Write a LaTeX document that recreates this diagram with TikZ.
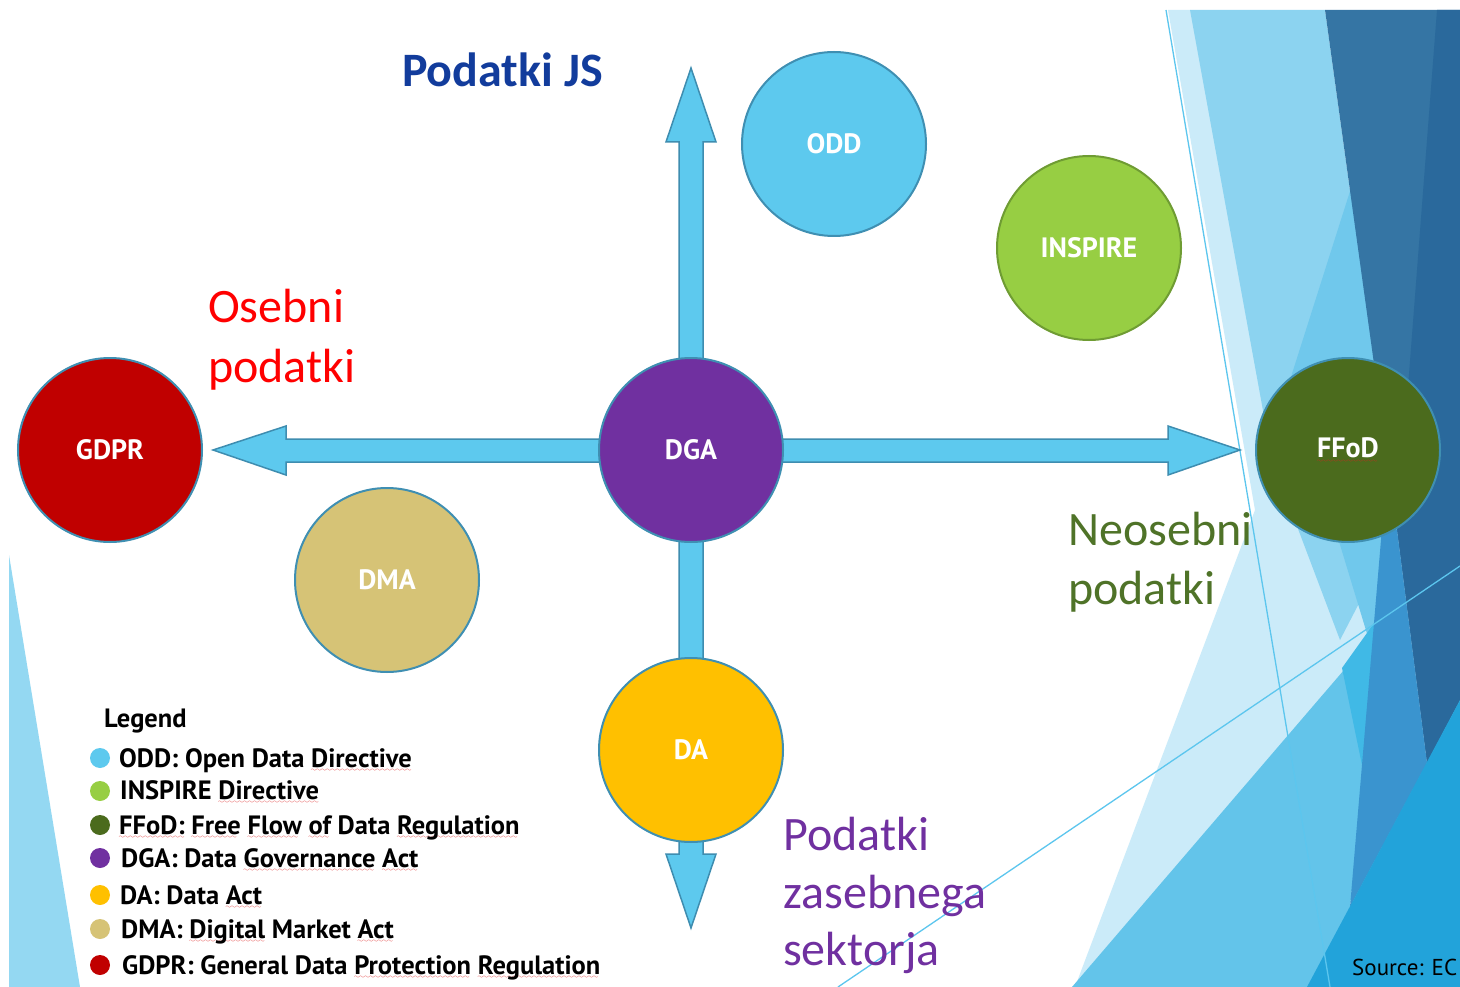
\documentclass[tikz,border=0pt]{standalone}
\usepackage{fontspec}
\setmainfont{PT Sans}
\newfontfamily\calib{Carlito}
\usetikzlibrary{calc}
\definecolor{spellred}{HTML}{E02020}
\font\wavefont=lasy6
\newcommand\spl[1]{\setbox0\hbox{#1}\rlap{\textcolor{spellred}{\lower4.5pt\hbox to\wd0{\leaders\hbox{\wavefont\char58}\hfil}}}\box0\relax}
\definecolor{bubbleedge}{HTML}{3F8FB2}
\definecolor{arrowfill}{HTML}{5DC9EE}
\definecolor{arrowedge}{HTML}{3E8DB0}
\definecolor{cODD}{HTML}{5DC9EE}
\definecolor{cINS}{HTML}{97CE43}
\definecolor{cINSedge}{HTML}{6F9C33}
\definecolor{cGDPR}{HTML}{C00000}
\definecolor{cDGA}{HTML}{7030A0}
\definecolor{cFFOD}{HTML}{4B6B1D}
\definecolor{cDMA}{HTML}{D6C376}
\definecolor{cDA}{HTML}{FFC000}
\definecolor{tJS}{HTML}{123C9C}
\definecolor{tRed}{HTML}{FF0000}
\definecolor{tGreen}{HTML}{4F7328}
\definecolor{tPurple}{HTML}{7030A0}
\definecolor{dPale}{HTML}{CBEBF9}
\definecolor{dLight}{HTML}{8CD3F0}
\definecolor{dMidLight}{HTML}{70C8EC}
\definecolor{dDarkA}{HTML}{3575A4}
\definecolor{dDarkB}{HTML}{2A699C}
\definecolor{dMedium}{HTML}{3A94CF}
\definecolor{dBright}{HTML}{22A3DA}
\definecolor{dMedBlue}{HTML}{63C4EA}
\definecolor{dCyan}{HTML}{40B9E6}
\definecolor{dLine}{HTML}{5CC6EE}
\definecolor{dLeft}{HTML}{94D8F2}
\pgfdeclarelayer{deco}
\pgfdeclarelayer{arr}
\pgfsetlayers{deco,arr,main}
\tikzset{
  bubble/.style={circle, draw=bubbleedge, line width=2pt, minimum size=184pt, inner sep=0pt,
    text=white, font=\fontsize{28}{32}\selectfont\bfseries},
  legdot/.style={circle, draw=none, inner sep=0pt, minimum size=20pt},
  legtext/.style={anchor=base west, inner sep=0pt, text=black,
    font=\fontsize{26.5}{30}\selectfont\bfseries},
  bigtext/.style={anchor=base west, inner sep=0pt, font=\calib\fontsize{48}{58}\selectfont},
  arrowshape/.style={fill=arrowfill, draw=arrowedge, line width=1.5pt, line join=miter},
  decoline/.style={draw=dLine, line width=1.3pt},
}
\begin{document}
\begin{tikzpicture}[x=1pt,y=-1pt]
\useasboundingbox (0,0) rectangle (1460,987);

% ---------- circles ----------
\node[bubble, fill=cODD] (odd) at (834,144) {ODD};
\node[bubble, fill=cINS, draw=cINSedge] (inspire) at (1089,248) {INSPIRE};
\node[bubble, fill=cGDPR] (gdpr) at (110,450) {GDPR};
\node[bubble, fill=cDGA] (dga) at (691,450) {DGA};
\node[bubble, fill=cFFOD] (ffod) at (1348,450) {\spl{FFoD}};
\node[bubble, fill=cDMA] (dma) at (387,580) {DMA};
\node[bubble, fill=cDA] (da) at (691,750) {DA};

% ---------- arrow tips ----------
\coordinate (uptip) at ($(dga.center)+(0,-382)$);
\coordinate (downtip) at ($(da.center)+(0,178)$);
\coordinate (lefttip) at ($(gdpr.center)+(103,0)$);
\coordinate (righttip) at ($(ffod.center)+(-108,0)$);

\begin{pgfonlayer}{arr}
\filldraw[arrowshape] (uptip) -- ++(25,74) -- ++(-13,0) -- ++(0,712) -- ++(13,0)
  -- (downtip) -- ++(-25,-74) -- ++(13,0) -- ++(0,-712) -- ++(-13,0) -- cycle;
\filldraw[arrowshape] (lefttip) -- ++(73,-24) -- ++(0,13) -- ++(882,0) -- ++(0,-13)
  -- (righttip) -- ++(-72,25) -- ++(0,-13) -- ++(-882,0) -- ++(0,13) -- cycle;
\end{pgfonlayer}

% ---------- background decoration ----------
\begin{pgfonlayer}{deco}
\fill[white] (0,0) rectangle (1460,987);
\fill[dLeft] (9,555) -- (80,987) -- (9,987) -- cycle;
\fill[dPale] (1168,10) -- (1190,10) -- (1405,605) -- (1075,987) -- (1255,510) -- cycle;
\fill[dLight] (1190,10) -- (1325,10) -- (1397,530) -- (1340,640) -- (1272,460) -- cycle;
\fill[dMidLight] (1352,185) -- (1397,530) -- (1375,660) -- (1290,380) -- cycle;
\fill[dDarkA] (1325,10) -- (1460,10) -- (1460,700) -- (1427,763) -- (1397,530) -- cycle;
\fill[dDarkB] (1437,10) -- (1460,10) -- (1460,700) -- (1427,763) -- (1397,530) -- cycle;
\fill[dMedBlue] (1072,987) -- (1380,628) -- (1350,907) -- (1310,987) -- cycle;
\fill[dCyan] (1342,668) -- (1382,612) -- (1363,770) -- cycle;
\fill[dMedium] (1382,528) -- (1397,530) -- (1427,763) -- (1350,907) -- cycle;
\fill[dBright] (1460,700) -- (1460,987) -- (1307,987) -- cycle;
\draw[decoline] (1166,10) -- (1330,987);
\draw[decoline] (838,987) -- (1460,566);
\end{pgfonlayer}

% ---------- labels ----------
\node[bigtext, font=\calib\bfseries\fontsize{48}{58}\selectfont, text=tJS] (js) at (402,87) {Podatki JS};
\node[bigtext, text=tRed] (os1) at (208,323) {Osebni};
\node[bigtext, text=tRed] (os2) at (208,382) {podatki};
\node[bigtext, text=tGreen] (neo1) at (1068,545) {Neosebni};
\node[bigtext, text=tGreen] (neo2) at (1068,604) {podatki};
\node[bigtext, text=tPurple] (zas1) at (783,850) {Podatki};
\node[bigtext, text=tPurple] (zas2) at (783,908) {zasebnega};
\node[bigtext, text=tPurple] (zas3) at (783,965) {sektorja};
\node[anchor=base west, inner sep=0pt, font=\fontsize{23}{27}\selectfont] (src) at (1352,975) {Source: EC};

% ---------- legend ----------
\node[legtext] (legtitle) at (104,727) {Legend};
\node[legdot, fill=cODD] (d1) at (100,758) {};
\node[legtext] (l1) at (119,767) {ODD: Open Data \spl{Directive}};
\node[legdot, fill=cINS] (d2) at (100,791) {};
\node[legtext] (l2) at (120,799) {INSPIRE \spl{Directive}};
\node[legdot, fill=cFFOD] (d3) at (100,825) {};
\node[legtext] (l3) at (119,834) {\spl{FFoD:} \spl{Free} \spl{Flow} \spl{of} Data \spl{Regulation}};
\node[legdot, fill=cDGA] (d4) at (100,858) {};
\node[legtext] (l4) at (121,867) {DGA: Data \spl{Governance} \spl{Act}};
\node[legdot, fill=cDA] (d5) at (100,895) {};
\node[legtext] (l5) at (120,904) {DA: Data \spl{Act}};
\node[legdot, fill=cDMA] (d6) at (100,929) {};
\node[legtext] (l6) at (121,938) {DMA: \spl{Digital} Market \spl{Act}};
\node[legdot, fill=cGDPR] (d7) at (100,965) {};
\node[legtext] (l7) at (122,974) {GDPR: General Data \spl{Protection} \spl{Regulation}};
\end{tikzpicture}
\end{document}
